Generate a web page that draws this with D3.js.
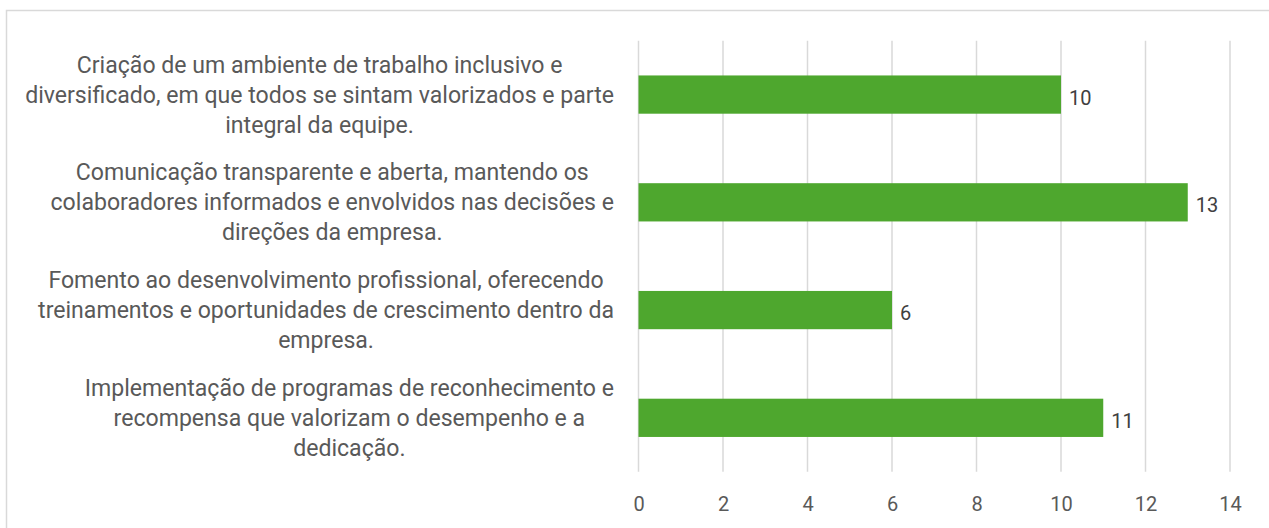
<!DOCTYPE html>
<html lang='pt'>
	<head>
		<meta charset='utf-8'>
		<title>Barras horizontais</title>
		<script type='text/javascript' src='https://cdn.jsdelivr.net/npm/d3@7'></script>
		<style>
			body { margin: 0; background: #fff; }
			text { font-family: Roboto, 'Liberation Sans', sans-serif; }
		</style>
	</head>
	<body>
	</body>
	<script type='text/javascript'>
	// categorias (de cima para baixo), ja quebradas em linhas como no grafico
	var categories = [
		['Criação de um ambiente de trabalho inclusivo e', 'diversificado, em que todos se sintam valorizados e parte', 'integral da equipe.'],
		['Comunicação transparente e aberta, mantendo os', 'colaboradores informados e envolvidos nas decisões e', 'direções da empresa.'],
		['Fomento ao desenvolvimento profissional, oferecendo', 'treinamentos e oportunidades de crescimento dentro da', 'empresa.'],
		['Implementação de programas de reconhecimento e', 'recompensa que valorizam o desempenho e a', 'dedicação.']
	];
	var values = [10, 13, 6, 11];
	var xTicks = [0, 2, 4, 6, 8, 10, 12, 14];

	{
		var width = 1269, height = 528;
		var plot = {left: 638.5, right: 1230, top: 40.7, bottom: 471.7};
		var labelRight = 614, lineH = 30;

		var svg = d3.select('body').append('svg').attr('width', width).attr('height', height)

		// moldura do grafico
		svg.append('rect').attr('x', 6.5).attr('y', 10.5).attr('width', width + 20).attr('height', height + 20)
			.attr('fill', 'none').attr('stroke', '#d9d9d9').attr('stroke-width', 1.5)

		var keys = categories.map((d, i) => 'c' + i)
		var scale_x = d3.scaleLinear().domain([0, 14]).range([plot.left, plot.right])
		var scale_y = d3.scaleBand().domain(keys).range([plot.top, plot.bottom]).paddingInner(0.645).paddingOuter(0.3225)

		// linhas de grade verticais
		svg.append('g').selectAll('line').data(xTicks).enter().append('line')
			.attr('x1', d => scale_x(d)).attr('x2', d => scale_x(d))
			.attr('y1', plot.top).attr('y2', plot.bottom)
			.attr('stroke', '#d9d9d9').attr('stroke-width', 1.5)

		// eixo x (so os rotulos)
		var xAxis = svg.append('g').attr('transform', 'translate(0,' + plot.bottom + ')')
			.call(d3.axisBottom(scale_x).tickValues(xTicks).tickSize(0).tickPadding(0))
		xAxis.select('.domain').remove()
		xAxis.selectAll('text').attr('y', 32).attr('dy', '0.35em')
			.attr('font-size', '20px').attr('fill', '#595959')
			.style('font-family', "Roboto, 'Liberation Sans', sans-serif")

		// barras
		svg.append('g').selectAll('rect').data(values).enter().append('rect')
			.attr('x', scale_x(0))
			.attr('y', (d, i) => scale_y(keys[i]))
			.attr('width', d => scale_x(d) - scale_x(0))
			.attr('height', scale_y.bandwidth())
			.attr('fill', '#4ea72e')

		// rotulos de dados
		svg.append('g').selectAll('text').data(values).enter().append('text')
			.text(d => d)
			.attr('x', d => scale_x(d) + 8)
			.attr('y', (d, i) => scale_y(keys[i]) + scale_y.bandwidth() / 2 + 3)
			.attr('dy', '0.35em')
			.attr('font-size', '20px').attr('fill', '#404040')

		// rotulos das categorias: bloco alinhado a direita, linhas centralizadas
		var fontSize = 20
		var probe = svg.append('text').attr('font-size', fontSize + 'px').text(categories[0][1])
		fontSize = fontSize * 589 / probe.node().getComputedTextLength()
		probe.remove()

		categories.forEach(function(lines, i) {
			var g = svg.append('g')
			var cy = scale_y(keys[i]) + scale_y.bandwidth() / 2
			var t = g.selectAll('text').data(lines).enter().append('text')
				.text(d => d)
				.attr('font-size', fontSize + 'px').attr('fill', '#595959')
				.attr('text-anchor', 'middle')
				.attr('y', (d, j) => cy + (j - (lines.length - 1) / 2) * lineH)
				.attr('dy', '0.35em')
			var w = d3.max(t.nodes(), n => n.getComputedTextLength())
			t.attr('x', labelRight - w / 2)
		})
	}
	</script>
</html>
